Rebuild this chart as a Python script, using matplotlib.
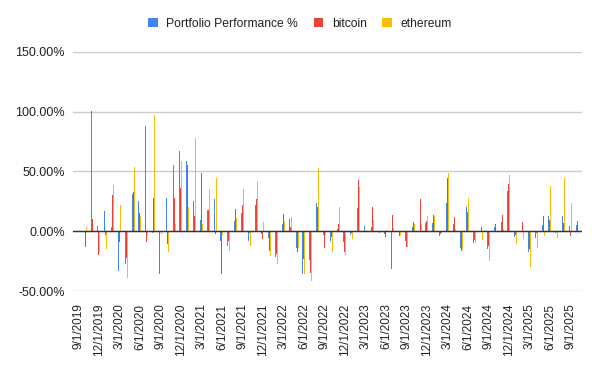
import matplotlib
matplotlib.use('Agg')
import matplotlib.pyplot as plt
import numpy as np
import pandas as pd

plt.rcParams['font.family'] = ['Liberation Sans', 'DejaVu Sans']

# Categories: monthly dates 9/1/2019 .. 10/1/2025
months = pd.date_range('2019-09-01', '2025-10-01', freq='MS')
categories = [f"{d.month}/{d.day}/{d.year}" for d in months]

nan = np.nan
portfolio = [nan,
    0, 100.8, 4.2, 16.7, 3.3, -33, -27.2, 31.4, 25, 87.5,
    -1.4, -35.6, 28, 55, 66.7, 59, 25, 9.2, 17.5, 26.7,
    -8, -12.8, 8.3, 15, -8, 21.7, -2.5, -5.6, -21.4, 5.8,
    10, -13.9, -35.6, -23.9, 23.3, -3, -8, 1.7, -8.9, -3,
    19.2, 4.2, 3.3, -0.5, -2.2, -31.4, -0.3, -8, 3.3, 0.3,
    6.7, 6.7, -3.9, 23.3, 5.8, -13.9, 20, -9.7, 0.3, -14.7,
    3.3, 7.5, 33.3, -4.7, 0.3, -17.2, -5.6, 5, 12.5, -1.4,
    12.5, 4.2, 5]
bitcoin = [nan,
    -13.6, 10, -19.7, -3, 30, -8.9, -22.8, 32.5, 15, -9.4,
    27.5, -0.8, -10.6, 28, 36.4, 55, 13, 48.3, 17.5, -2.2,
    -36.1, -8, 18.3, 21.7, -1.4, 26.7, -6.4, -16.4, -18.9, 14.2,
    3.3, -17.2, -23, -34.7, 20, -13.9, -4.7, 5.8, -17.2, -1.4,
    42.5, 0.3, 20, -1.4, -4.7, 13.3, -3.9, -13, 7.5, 26.7,
    8.3, 13.3, -2.5, 44.2, 11.7, -16.4, 15.8, -7.2, 3.3, -12.2,
    5.8, 13.3, 39.2, -3, 7.5, -14.7, -1.4, 12.5, 9.2, 0.3,
    6.7, -3.9, 8.3]
ethereum = [nan,
    3.3, 1, -17.2, -14.7, 38.3, 21.7, -38.9, 53.3, 12.5, -2.8,
    97.5, -2, -17.2, 6.4, 58.3, 20, 77.5, 6.4, 35, 44.2,
    -3, -16.4, 10.8, 35, -12.2, 41.7, 7.5, -20.6, -27.2, 8.3,
    11.7, -13.9, -35.6, -41.4, 52.5, -3, -17.2, 20, -19.7, -6.4,
    36.7, 0.8, 9.2, -0.3, 0.8, 2.5, -3, -13, 5.8, 5.8,
    12.5, 12.5, -1.7, 48.3, 1.7, -15.6, 27.5, -9.7, -7.2, -24.7,
    0.5, 1.7, 46.7, -10.6, -6.4, -29.7, -13.9, -3.9, 37.5, -5.6,
    44.2, 23.3, 0.5]

series_names = ['Portfolio Performance %', 'bitcoin', 'ethereum']
colors = ['#4285F4', '#EA4335', '#FBBC04']

fig = plt.figure(figsize=(6.0, 3.71), dpi=100)
ax = fig.add_axes([73/600, 1 - 291/371, (582 - 73)/600, (291 - 51.7)/371])

x = np.arange(len(categories))
w = 0.15
for i, (vals, name, c) in enumerate(zip([portfolio, bitcoin, ethereum], series_names, colors)):
    ax.bar(x + (i - 1) * w, vals, width=w, color=c, label=name, linewidth=0)

ax.set_ylim(-50, 150)
ax.set_xlim(-0.8, 73.7)
ax.set_yticks([-50, 0, 50, 100, 150])
ax.set_yticklabels([f"{v:.2f}%" for v in [-50, 0, 50, 100, 150]], fontsize=9, color='#222222')
ax.yaxis.grid(True, color='#cccccc', linewidth=1)
ax.set_axisbelow(True)
ax.axhline(0, color='#333333', linewidth=1, zorder=3)

tick_idx = list(range(0, len(categories), 3))
ax.set_xticks(tick_idx)
ax.set_xticklabels([categories[i] for i in tick_idx], rotation=90, fontsize=8.5, color='#222222')
ax.tick_params(axis='both', length=0)
ax.tick_params(axis='x', pad=9)
ax.tick_params(axis='y', pad=6)
for s in ax.spines.values():
    s.set_visible(False)

fig.legend(loc='center', bbox_to_anchor=(0.5, 1 - 24/371), ncol=3, frameon=False,
           fontsize=8.7, handlelength=0.8, handleheight=0.8, handletextpad=0.7,
           columnspacing=1.3, labelcolor='#222222')

fig.savefig('out.png', dpi=100)
